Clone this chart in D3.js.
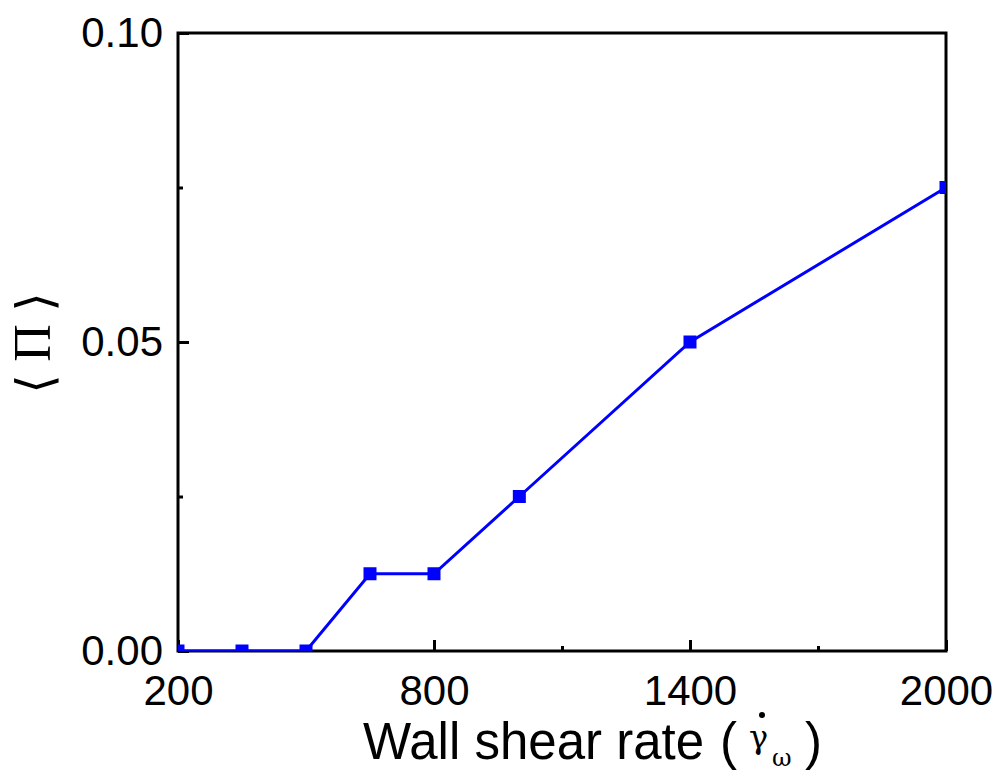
<!DOCTYPE html>
<html>
<head>
<meta charset="utf-8">
<script src="https://cdn.jsdelivr.net/npm/d3@7"></script>
<style>
  body { margin: 0; background: #fff; }
  svg { display: block; }
</style>
</head>
<body>
<div id="chart"></div>
<script>
// Data.
const shearRate = [200, 350, 500, 650, 800, 1000, 1400, 2000];
const piMean = [0, 0, 0, 0.0125, 0.0125, 0.025, 0.05, 0.075];

const xMajor = [200, 800, 1400, 2000];
const xMinor = [500, 1100, 1700];
const yMajor = [0, 0.05, 0.10];
const yMinor = [0.025, 0.075];

const width = 998;
const height = 772;
const margin = { top: 33, right: 52, bottom: 121, left: 178 };
const inner = { w: width - margin.left - margin.right, h: height - margin.top - margin.bottom };

const svg = d3.select("#chart").append("svg")
  .attr("width", width)
  .attr("height", height);

const g = svg.append("g").attr("transform", `translate(${margin.left},${margin.top})`);

const x = d3.scaleLinear().domain([200, 2000]).range([0, inner.w]);
const y = d3.scaleLinear().domain([0, 0.10]).range([inner.h, 0]);

const sans = "Liberation Sans, Arial, Helvetica, sans-serif";
const greek = "DejaVu Serif, serif";

// Frame.
g.append("rect")
  .attr("width", inner.w).attr("height", inner.h)
  .attr("fill", "none").attr("stroke", "#000").attr("stroke-width", 3);

// Inward ticks, major and minor.
const xAxis = g.append("g").attr("transform", `translate(0,${inner.h})`)
  .call(d3.axisBottom(x).tickValues(xMajor).tickSizeInner(-11).tickSizeOuter(0).tickPadding(24).tickFormat(d3.format("d")));
const yAxis = g.append("g")
  .call(d3.axisLeft(y).tickValues(yMajor).tickSizeInner(-11).tickSizeOuter(0).tickPadding(15).tickFormat(d3.format(".2f")));
g.append("g").attr("transform", `translate(0,${inner.h})`)
  .call(d3.axisBottom(x).tickValues(xMinor).tickSize(-5).tickFormat(""));
g.append("g")
  .call(d3.axisLeft(y).tickValues(yMinor).tickSize(-5).tickFormat(""));

g.selectAll(".domain").remove();
g.selectAll(".tick line").attr("stroke", "#000").attr("stroke-width", 3);
xAxis.selectAll("text").attr("font-family", sans).attr("font-size", "42px").attr("fill", "#000");
yAxis.selectAll("text").attr("font-family", sans).attr("font-size", "42px").attr("fill", "#000");

// Series, clipped to the plot box.
svg.append("clipPath").attr("id", "plot-clip")
  .append("rect").attr("width", inner.w).attr("height", inner.h);

const series = g.append("g").attr("clip-path", "url(#plot-clip)");
const pts = shearRate.map((v, i) => [v, piMean[i]]);

series.append("path")
  .datum(pts)
  .attr("fill", "none")
  .attr("stroke", "#0000ff")
  .attr("stroke-width", 3)
  .attr("d", d3.line().x((d) => x(d[0])).y((d) => y(d[1])));

const ms = 13;
series.selectAll("rect.marker")
  .data(pts)
  .join("rect")
  .attr("class", "marker")
  .attr("x", (d) => x(d[0]) - ms / 2)
  .attr("y", (d) => y(d[1]) - ms / 2)
  .attr("width", ms).attr("height", ms)
  .attr("fill", "#0000ff");

// X axis title: Wall shear rate ( gamma-dot_omega )
const xt = svg.append("g").attr("fill", "#000");
xt.append("text").attr("x", 363).attr("y", 759)
  .attr("font-family", sans).attr("font-size", "51px").text("Wall shear rate");
xt.append("text").attr("x", 720).attr("y", 759)
  .attr("font-family", sans).attr("font-size", "51px").text("(");
xt.append("text").attr("x", 749).attr("y", 748)
  .attr("font-family", greek).attr("font-size", "32px").text("γ");
xt.append("circle").attr("cx", 762).attr("cy", 715).attr("r", 3);
xt.append("text").attr("x", 772).attr("y", 766)
  .attr("font-family", greek).attr("font-size", "24px").text("ω");
xt.append("text").attr("x", 805).attr("y", 759)
  .attr("font-family", sans).attr("font-size", "51px").text(")");

// Y axis title: <Pi>, rotated.
const yt = svg.append("g").attr("transform", "translate(52,343) rotate(-90)").attr("fill", "#000");
yt.append("text").attr("x", -41).attr("text-anchor", "middle")
  .attr("font-family", greek).attr("font-size", "50px").text("⟨");
yt.append("text").attr("x", 0).attr("y", -2).attr("text-anchor", "middle")
  .attr("font-family", "Liberation Serif, Times New Roman, serif").attr("font-size", "52px").text("Π");
yt.append("text").attr("x", 41).attr("text-anchor", "middle")
  .attr("font-family", greek).attr("font-size", "50px").text("⟩");
</script>
</body>
</html>
